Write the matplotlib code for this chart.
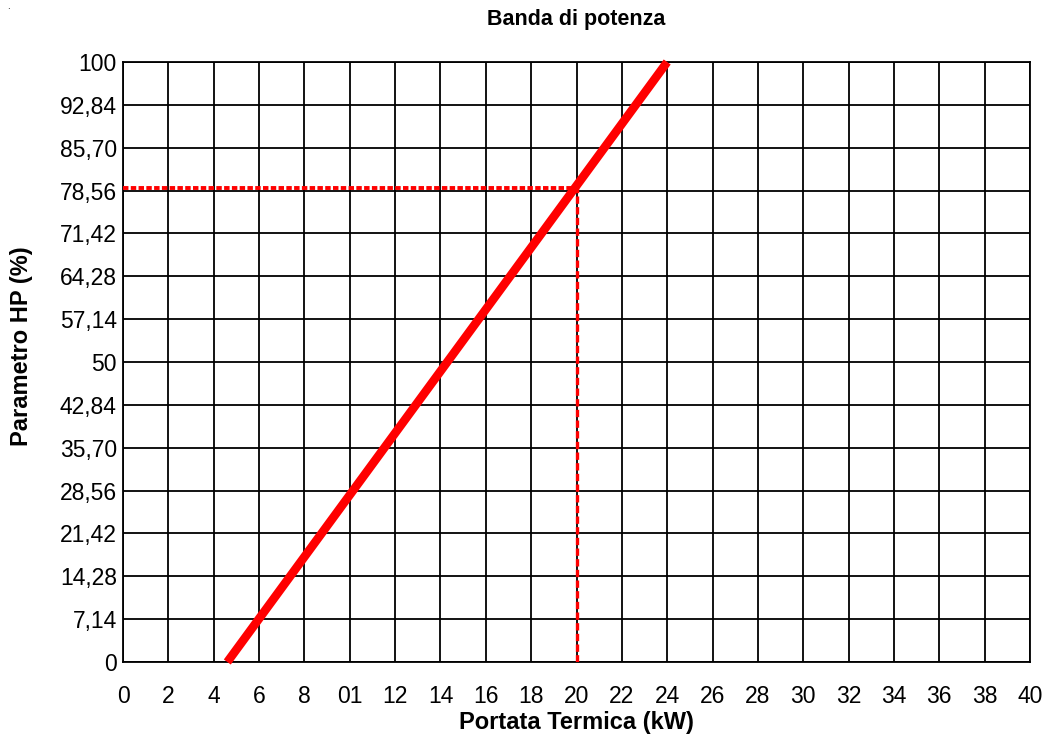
#!/usr/bin/env python
# power band chart: HP parameter against thermal output
import matplotlib
matplotlib.use('Agg')
import matplotlib.pyplot as plt

plt.rcParams['font.family'] = ['Liberation Sans', 'DejaVu Sans']

# x ticks (the "01" label is printed that way on the sheet)
x_ticks = list(range(0, 41, 2))
x_labels = ['0', '2', '4', '6', '8', '01', '12', '14', '16', '18', '20',
            '22', '24', '26', '28', '30', '32', '34', '36', '38', '40']

# y ticks, 14 equal steps
y_ticks = [i * 100 / 14 for i in range(15)]
y_labels = ['0', '7,14', '14,28', '21,42', '28,56', '35,70', '42,84', '50',
            '57,14', '64,28', '71,42', '78,56', '85,70', '92,84', '100']

# power band line
band_kw = [4.6, 24.0]
band_hp = [0, 100]

# working point
point_kw = 20
point_hp = 78.56

W, H = 1045, 736
fig = plt.figure(figsize=(W / 100, H / 100), dpi=100)
left, right, top, bottom = 123, 1030, 62, 662
ax = fig.add_axes([left / W, 1 - bottom / H, (right - left) / W, (bottom - top) / H])

ax.set_xlim(0, 40)
ax.set_ylim(0, 100)
ax.set_xticks(x_ticks)
ax.set_xticklabels(x_labels)
ax.set_yticks(y_ticks)
ax.set_yticklabels(y_labels)
ax.tick_params(length=0, labelsize=16.5)
ax.tick_params(axis='y', pad=4.5)
ax.tick_params(axis='x', pad=16.5)

ax.grid(True, color='black', linewidth=1.3)
for s in ax.spines.values():
    s.set_linewidth(1.3)

ax.plot(band_kw, band_hp, color='#ff0000', linewidth=6.2, solid_capstyle='butt',
        zorder=4, clip_on=False)

# dashed guides to the working point, drawn just above the grid line
ax.plot([0, point_kw], [point_hp + 0.4, point_hp + 0.4], color='#ff0000',
        linewidth=2.8, dashes=(1.4, 0.6), zorder=3)
ax.plot([point_kw, point_kw], [0, point_hp + 0.4], color='#ff0000',
        linewidth=2.4, dashes=(2.2, 1.0), zorder=3)

cx = (left + right) / 2 / W
fig.text(cx, 1 - 20 / H, 'Banda di potenza', fontsize=15.5, fontweight='bold',
         ha='center', va='center')
fig.text(cx, 1 - 722 / H, 'Portata Termica (kW)', fontsize=17, fontweight='bold',
         ha='center', va='center')
fig.text(22 / W, 1 - 346 / H, 'Parametro HP (%)', fontsize=17, fontweight='bold',
         ha='center', va='center', rotation=90)

fig.text(0.007, 0.988, '.', fontsize=7)

fig.savefig('out.png', dpi=100)
